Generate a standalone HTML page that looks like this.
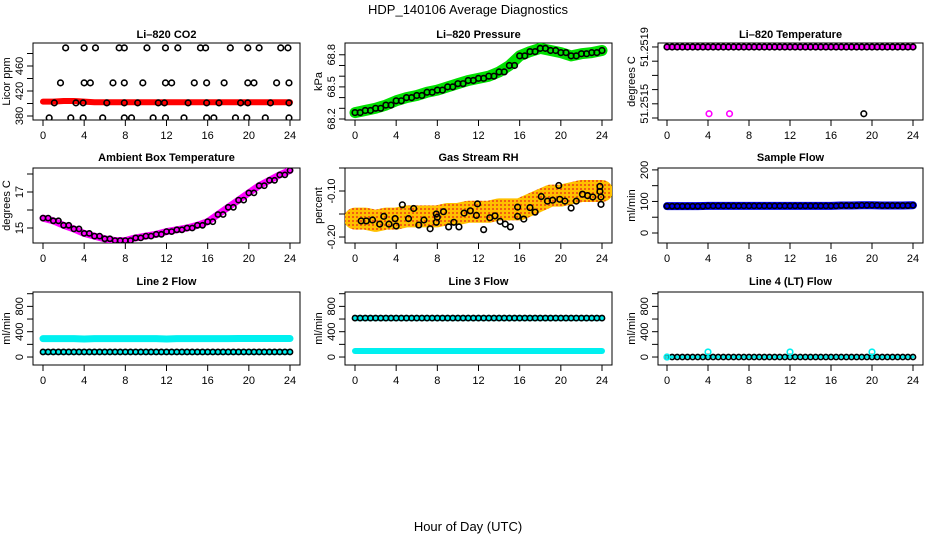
<!DOCTYPE html>
<html><head><meta charset="utf-8">
<style>
html,body{margin:0;padding:0;background:#fff;}
svg{display:block;font-family:"Liberation Sans",sans-serif;}
</style></head>
<body>
<svg id="c" width="936" height="540" viewBox="0 0 936 540">
<defs>
<pattern id="rhpat" width="4" height="4" patternUnits="userSpaceOnUse"><rect width="4" height="4" fill="#ffc000"/><rect width="2" height="2" fill="#f06010"/></pattern>
</defs>
<text x="468" y="14" text-anchor="middle" font-size="13">HDP_140106  Average Diagnostics</text>
<text x="468" y="531" text-anchor="middle" font-size="13">Hour of Day (UTC)</text>
</svg>
<script>
// ---- data ----
const hours = [0,1,2,3,4,5,6,7,8,9,10,11,12,13,14,15,16,17,18,19,20,21,22,23,24];
const co2Band = [403,403,404,404,403,402,402,402,402,402,402,402,402,402,402,402,402,402,402,402,402,402,402,402,402];
const co2PtsHours = [2.2,4,5.1,7.4,7.9,10.1,11.9,13.1,15.3,15.8,18.2,19.9,21,23.1,23.8, 1.7,4,4.6,6.8,7.9,9.7,11.9,12.5,14.7,15.9,17.6,19.9,20.5,22.7,23.9, 1.1,3.2,3.9,6.2,7.9,9.2,11.2,11.8,14.1,15.9,17.1,19.2,19.9,22.1,23.9, 0.6,2.7,3.9,5.8,7.9,8.6,10.7,11.9,13.7,15.9,16.6,18.7,19.8,21.6,23.9];
const co2PtsVals = [489,489,489,489,489,489,489,489,489,489,489,489,489,489,489, 433,433,433,433,433,433,433,433,433,433,433,433,433,433,433, 401,401,401,401,401,401,401,401,401,401,401,401,401,401,401, 377,377,377,377,377,377,377,377,377,377,377,377,377,377,377];
const pressure = [68.26,68.28,68.30,68.33,68.37,68.40,68.42,68.45,68.47,68.50,68.53,68.56,68.58,68.60,68.64,68.70,68.79,68.83,68.86,68.84,68.82,68.79,68.81,68.82,68.84];
const liTemp = [51.2519,51.2519,51.2519,51.2519,51.2519,51.2519,51.2519,51.2519,51.2519,51.2519,51.2519,51.2519,51.2519,51.2519,51.2519,51.2519,51.2519,51.2519,51.2519,51.2519,51.2519,51.2519,51.2519,51.2519,51.2519];
const liTempOutHours = [4.1,6.1,19.2];
const liTempOutVals = [51.25143,51.25143,51.25143];
const ambient = [15.55,15.4,15.15,14.95,14.7,14.55,14.4,14.3,14.3,14.45,14.55,14.65,14.8,14.9,15.0,15.15,15.35,15.75,16.15,16.55,16.95,17.35,17.65,17.95,18.2];
const rhBand = [-0.16,-0.16,-0.165,-0.16,-0.16,-0.155,-0.155,-0.155,-0.155,-0.15,-0.15,-0.145,-0.145,-0.145,-0.14,-0.14,-0.14,-0.13,-0.12,-0.11,-0.11,-0.105,-0.10,-0.10,-0.10];
const rhPtsHours = [0.6,1.1,1.7,2.4,2.8,3.3,3.9,4.0,4.6,5.2,5.7,6.2,6.7,7.3,7.9,7.9,8.0,8.6,9.1,9.6,10.1,10.6,11.2,11.8,11.9,12.5,13.1,13.6,14.1,14.6,15.1,15.8,15.8,16.4,17.0,17.5,18.1,18.7,19.2,19.8,19.9,20.4,21.0,21.5,22.1,22.6,23.1,23.8,23.8,23.9,23.9];
const rhPtsVals = [-0.165,-0.165,-0.163,-0.172,-0.155,-0.172,-0.16,-0.176,-0.13,-0.16,-0.138,-0.174,-0.163,-0.182,-0.15,-0.168,-0.157,-0.145,-0.178,-0.168,-0.178,-0.148,-0.143,-0.153,-0.128,-0.184,-0.158,-0.154,-0.166,-0.172,-0.178,-0.135,-0.155,-0.161,-0.136,-0.146,-0.112,-0.122,-0.12,-0.088,-0.118,-0.122,-0.137,-0.122,-0.107,-0.11,-0.113,-0.09,-0.101,-0.113,-0.129];
const sampleFlow = [85,85,85,85,86,86,86,86,86,86,86,86,86,86,86,86,86,87,87,88,88,87,87,87,88];
const line2High = [290,290,290,290,285,290,290,290,290,290,290,290,285,290,290,290,290,290,290,292,292,292,292,292,292];
const line2Low = [80,80,80,80,80,80,80,80,80,80,80,80,80,80,80,80,80,80,80,80,80,80,80,80,80];
const line3High = [615,615,615,615,615,615,615,615,615,615,615,615,615,615,615,615,615,615,615,615,615,615,615,615,615];
const line3Low = [95,95,95,95,95,95,95,95,95,95,95,95,95,95,95,95,95,95,95,95,95,95,95,95,95];
const line4 = [0,0,0,0,0,0,0,0,0,0,0,0,0,0,0,0,0,0,0,0,0,0,0,0,0];
const line4SpikeHours = [4,12,20];
const line4SpikeVals = [80,80,80];
const xTicks = [0,4,8,12,16,20,24];
const co2Ticks = [380,400,420,440,460,480]; const co2Labels = ["380","","420","","460",""];
const presTicks = [68.2,68.3,68.4,68.5,68.6,68.7,68.8]; const presLabels = ["68.2","","","68.5","","","68.8"];
const tempTicks = [51.2514,51.2515,51.2516,51.2517,51.2518,51.2519]; const tempLabels = ["","51.2515","","","","51.2519"];
const ambTicks = [15,16,17,18]; const ambLabels = ["15","","17",""];
const rhTicks = [-0.20,-0.15,-0.10,-0.05]; const rhLabels = ["-0.20","","-0.10",""];
const sfTicks = [0,50,100,150,200]; const sfLabels = ["0","","100","","200"];
const flTicks = [0,200,400,600,800,1000]; const flLabels = ["0","","400","","800",""];

// ---- layout ----
const NS = "http://www.w3.org/2000/svg";
const svg = document.getElementById('c');
const cols = [[33,300,43,290],[345,612,355,602],[658,923,667,913]];
const rows = [[43,120,34],[168,243,157],[292,365,281]];
function el(tag, attrs, parent){const e=document.createElementNS(NS,tag);for(const k in attrs)e.setAttribute(k,attrs[k]);(parent||svg).appendChild(e);return e;}

function makePanel(id, title, ylab, ci, ri, vTop, vBot, ticks, labels){
  const [bl,br,x0,x24]=cols[ci]; const [bt,bb,ty]=rows[ri];
  const g=el('g',{});
  
  
  const p={g, x:h=>x0+(h/24)*(x24-x0), y:v=>bt+(vTop-v)/(vTop-vBot)*(bb-bt), bl,br,bt,bb};
  const t=el('text',{x:(bl+br)/2,y:ty+4,'text-anchor':'middle','font-size':11,'font-weight':'bold'},g); t.textContent=title;
  
  
  const box=el('rect',{x:bl,y:bt,width:br-bl,height:bb-bt,fill:'none',stroke:'#000','stroke-width':1},g);
  
  
  xTicks.forEach(h=>{const X=p.x(h);el('line',{x1:X,y1:bb,x2:X,y2:bb+6,stroke:'#000'},g);
    const tx=el('text',{x:X,y:bb+19,'text-anchor':'middle','font-size':11},g);tx.textContent=h;
    
    });
  ticks.forEach((v,i)=>{const Y=p.y(v);el('line',{x1:bl-6,y1:Y,x2:bl,y2:Y,stroke:'#000'},g);
    if(labels[i]){const tx=el('text',{x:0,y:0,'text-anchor':'middle','font-size':11,transform:`translate(${bl-10},${Y}) rotate(-90)`},g);tx.textContent=labels[i];
      
      }});
  const yl=el('text',{x:0,y:0,'text-anchor':'middle','font-size':11,transform:`translate(${bl-23},${(bt+bb)/2}) rotate(-90)`},g);yl.textContent=ylab;
  
  
  const cp=el('clipPath',{id:id+'-clip'},g); el('rect',{x:bl,y:bt,width:br-bl,height:bb-bt},cp);
  p.plot=el('g',{'clip-path':`url(#${id}-clip)`},g);
  return p;
}
function band(p, xs, vs, color, w, name){
  const d=xs.map((h,i)=>(i?'L':'M')+p.x(h)+','+p.y(vs[i])).join(' ');
  const e=el('path',{d,fill:'none',stroke:color,'stroke-width':w,'stroke-linejoin':'round','stroke-linecap':'round'},p.plot);
  
  
}
function pts(p, xs, vs, color, r, name, sw){
  xs.forEach((h,i)=>{const c=el('circle',{cx:p.x(h),cy:p.y(vs[i]),r:r,fill:'none',stroke:color,'stroke-width':sw||1.6},p.plot);
    
    });
}
function ptsDouble(p, xs, vs, color, r, name){
  pts(p, xs, vs, color, r, name);
  pts(p, xs.slice(0,-1).map(h=>h+0.5), vs.slice(0,-1), color, r, name);
}

// 1 CO2
let p=makePanel('co2','Li\u2013820 CO2','Licor ppm',0,0,496.8,373.6,co2Ticks,co2Labels);
band(p,hours,co2Band,'#f00',6,'co2-band');
pts(p,co2PtsHours,co2PtsVals,'#000',2.8,'co2-point');
// 2 Pressure
p=makePanel('pressure','Li\u2013820 Pressure','kPa',1,0,68.910,68.1907,presTicks,presLabels);
band(p,hours,pressure,'#00e000',11,'pressure-band');
ptsDouble(p,hours,pressure,'#000',2.8,'pressure-point');
// 3 Temperature
p=makePanel('li-temp','Li\u2013820 Temperature','degrees C',2,0,51.251928,51.251386,tempTicks,tempLabels);
band(p,hours,liTemp,'#f0f',6,'li-temp-band');
ptsDouble(p,hours,liTemp,'#000',2.8,'li-temp-point');
pts(p,liTempOutHours.slice(0,2),liTempOutVals.slice(0,2),'#f0f',2.8,'li-temp-outlier');
pts(p,liTempOutHours.slice(2),liTempOutVals.slice(2),'#000',2.8,'li-temp-outlier');
// 4 Ambient
p=makePanel('ambient','Ambient Box Temperature','degrees C',0,1,18.333,14.167,ambTicks,ambLabels);
band(p,hours,ambient,'#f0f',7,'ambient-band');
ptsDouble(p,hours,ambient,'#000',2.6,'ambient-point');
// 5 RH
p=makePanel('rh','Gas Stream RH','percent',1,1,-0.05,-0.213,rhTicks,rhLabels);
band(p,hours,rhBand,'url(#rhpat)',22,'rh-band');
pts(p,rhPtsHours,rhPtsVals,'#000',2.8,'rh-point');
// 6 Sample flow
p=makePanel('sample-flow','Sample Flow','ml/min',2,1,206,-31.7,sfTicks,sfLabels);
band(p,hours,sampleFlow,'#0000f0',8,'sample-flow-band');
ptsDouble(p,hours,sampleFlow,'#000',2.6,'sample-flow-point');
// 7 Line 2
p=makePanel('line2','Line 2 Flow','ml/min',0,2,1027,-126,flTicks,flLabels);
band(p,hours,line2High,'#00f0f0',7,'line2-high-band');
band(p,hours,line2Low,'#00f0f0',6,'line2-low-band');
ptsDouble(p,hours,line2Low,'#000',2.6,'line2-point');
// 8 Line 3
p=makePanel('line3','Line 3 Flow','ml/min',1,2,1027,-126,flTicks,flLabels);
band(p,hours,line3High,'#00f0f0',6,'line3-high-band');
band(p,hours,line3Low,'#00f0f0',6,'line3-low-band');
ptsDouble(p,hours,line3High,'#000',2.6,'line3-point');
// 9 Line 4
p=makePanel('line4','Line 4 (LT) Flow','ml/min',2,2,1027,-126,flTicks,flLabels);
band(p,hours,line4,'#00f0f0',3,'line4-band');
ptsDouble(p,hours,line4,'#000',2.6,'line4-point');
pts(p,line4SpikeHours,line4SpikeVals,'#00f0f0',2.8,'line4-spike');
pts(p,[0],[0],'#00f0f0',2.8,'line4-start');
</script>
</body></html>
